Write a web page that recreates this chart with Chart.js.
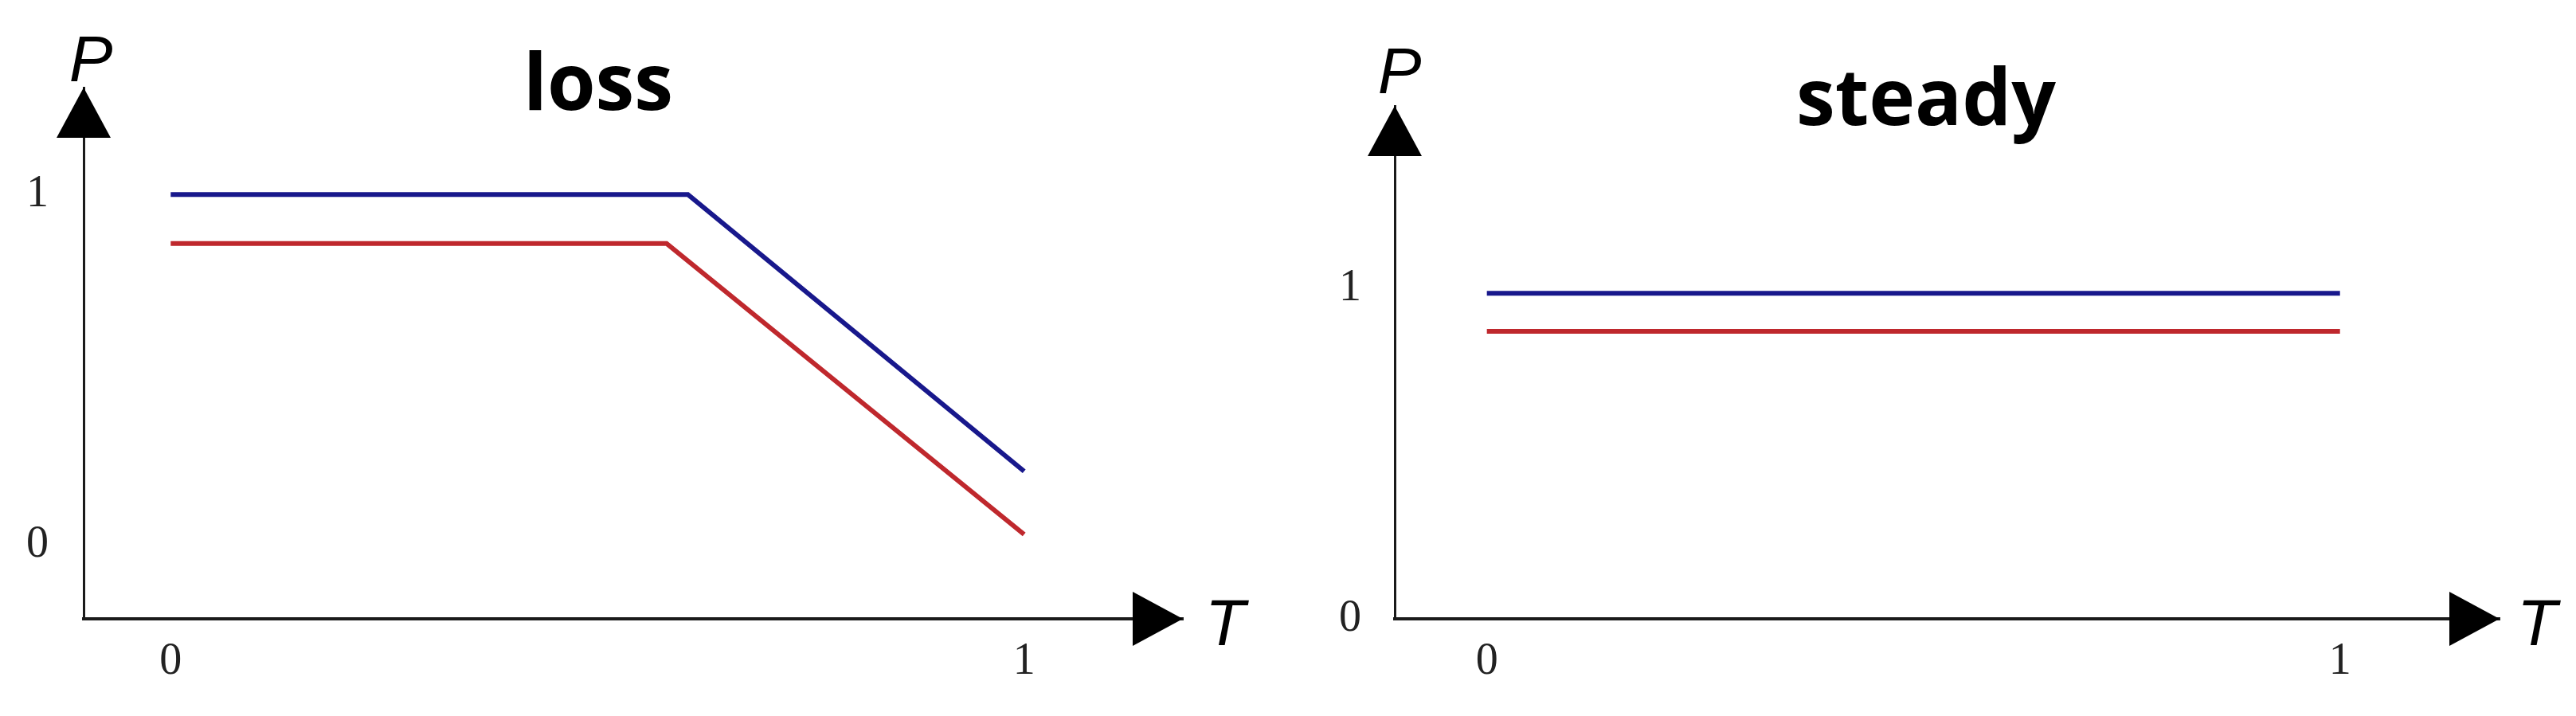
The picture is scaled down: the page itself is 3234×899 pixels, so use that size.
<!DOCTYPE html>
<html>
<head>
<meta charset="utf-8">
<script src="https://cdn.jsdelivr.net/npm/chart.js@4.4.1/dist/chart.umd.min.js"></script>
<style>
  html, body { margin: 0; padding: 0; background: #fff; }
  #wrap { position: relative; width: 3234px; height: 899px; }
  #wrap canvas { position: absolute; top: 0; }
  #lossChart { left: 0; }
  #steadyChart { left: 1617px; }
</style>
</head>
<body>
<div id="wrap">
  <canvas id="lossChart" width="1617" height="899"></canvas>
  <canvas id="steadyChart" width="1617" height="899"></canvas>
</div>
<script>
// Data (T on x, P on y)
const tickValues = [0, 1];
const tickLabels = ['0', '1'];

// loss panel
const lossBlueT = [0, 0.606, 1];
const lossBlueP = [1.0, 1.0, 0.21];
const lossRedT = [0, 0.581, 1];
const lossRedP = [0.86, 0.86, 0.03];

// steady panel
const steadyT = [0, 1];
const steadyBlueP = [0.985, 0.985];
const steadyRedP = [0.87, 0.87];

const BLUE = '#18188c';
const RED = '#bf282d';
const AXIS = '#1a1a1a';

function toPoints(xs, ys) {
  return xs.map((x, i) => ({ x: x, y: ys[i] }));
}

// arrows, P / T labels and the panel title
const axisDecor = {
  id: 'axisDecor',
  afterDraw(chart, args, opts) {
    const ctx = chart.ctx;
    const a = chart.chartArea;
    const xAxisY = a.bottom;
    const yAxisX = a.left;
    ctx.save();
    ctx.fillStyle = '#000';

    // up arrow on the P axis
    ctx.beginPath();
    ctx.moveTo(yAxisX, a.top);
    ctx.lineTo(yAxisX - 34, a.top + 63);
    ctx.lineTo(yAxisX + 34, a.top + 63);
    ctx.closePath();
    ctx.fill();

    // right arrow on the T axis
    ctx.beginPath();
    ctx.moveTo(a.right, xAxisY);
    ctx.lineTo(a.right - 63, xAxisY - 34);
    ctx.lineTo(a.right - 63, xAxisY + 34);
    ctx.closePath();
    ctx.fill();

    ctx.font = 'italic 82px "Liberation Sans"';
    ctx.textBaseline = 'alphabetic';
    ctx.textAlign = 'center';
    ctx.fillText('P', yAxisX + opts.pDx, a.top - opts.pDy);
    ctx.textAlign = 'left';
    ctx.fillText('T', a.right + opts.tDx, xAxisY + 33);

    ctx.font = 'bold 98px "Open Sans"';
    ctx.textAlign = 'center';
    ctx.fillText(opts.title, opts.titleX, opts.titleY);
    ctx.restore();
  }
};

function makeChart(id, cfg) {
  return new Chart(document.getElementById(id), {
    type: 'line',
    data: {
      datasets: [
        { data: cfg.blue, borderColor: BLUE, borderWidth: 6 },
        { data: cfg.red, borderColor: RED, borderWidth: 6 }
      ]
    },
    options: {
      responsive: false,
      animation: false,
      events: [],
      elements: { point: { radius: 0 }, line: { tension: 0, borderCapStyle: 'butt' } },
      layout: { padding: { top: cfg.top, right: cfg.right, bottom: 0, left: 0 } },
      plugins: {
        legend: { display: false },
        tooltip: { enabled: false },
        title: { display: false },
        axisDecor: cfg.decor
      },
      scales: {
        x: {
          type: 'linear',
          min: cfg.xMin, max: cfg.xMax,
          grid: { display: false, drawTicks: false },
          border: { display: true, color: AXIS, width: 4 },
          afterBuildTicks: s => { s.ticks = tickValues.map(v => ({ value: v })); },
          afterFit: s => { s.height = 122; },
          ticks: {
            padding: 26,
            color: '#222',
            font: { family: '"Liberation Serif"', size: 56, lineHeight: 1 },
            callback: v => tickLabels[tickValues.indexOf(v)]
          }
        },
        y: {
          type: 'linear',
          min: cfg.yMin, max: cfg.yMax,
          grid: { display: false, drawTicks: false },
          border: { display: true, color: AXIS, width: 3 },
          afterBuildTicks: s => { s.ticks = tickValues.map(v => ({ value: v })); },
          afterFit: s => { s.width = cfg.left; },
          ticks: {
            padding: cfg.yPad,
            color: '#222',
            font: { family: '"Liberation Serif"', size: 56, lineHeight: 1 },
            callback: v => tickLabels[tickValues.indexOf(v)]
          }
        }
      }
    },
    plugins: [axisDecor]
  });
}

makeChart('lossChart', {
  blue: toPoints(lossBlueT, lossBlueP),
  red: toPoints(lossRedT, lossRedP),
  xMin: -0.102, xMax: 1.186,
  yMin: -0.211, yMax: 1.305,
  top: 110, right: 132, left: 105, yPad: 44,
  decor: { title: 'loss', titleX: 751, titleY: 138, pDx: 9, pDy: 8, tDx: 28 }
});

makeChart('steadyChart', {
  blue: toPoints(steadyT, steadyBlueP),
  red: toPoints(steadyT, steadyRedP),
  xMin: -0.108, xMax: 1.187,
  yMin: 0, yMax: 1.552,
  top: 133, right: 96, left: 134, yPad: 42,
  decor: { title: 'steady', titleX: 801, titleY: 157, pDx: 6, pDy: 16, tDx: 22 }
});
</script>
</body>
</html>
